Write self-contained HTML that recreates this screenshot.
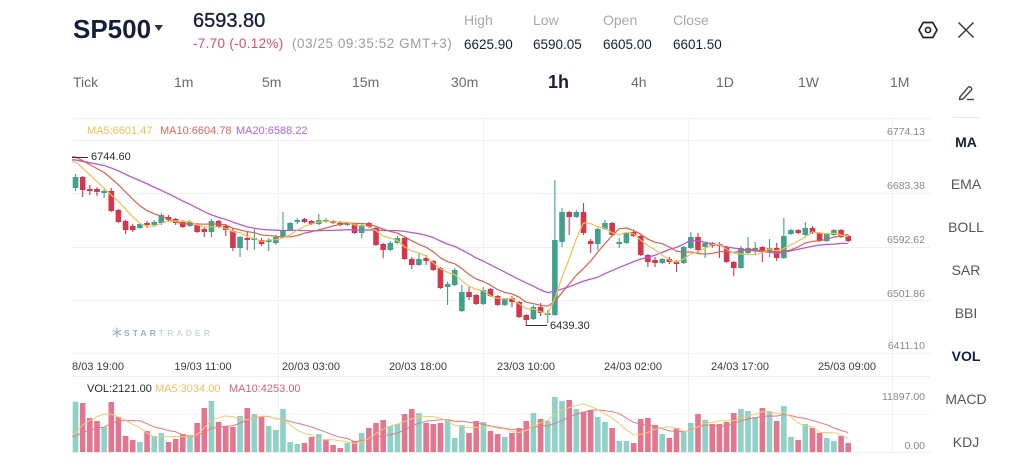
<!DOCTYPE html>
<html><head><meta charset="utf-8">
<style>
*{margin:0;padding:0;box-sizing:border-box}
body{width:1024px;height:471px;background:#fff;overflow:hidden;font-family:"Liberation Sans",Arial,sans-serif}
#root{position:relative;width:1024px;height:471px;overflow:hidden;background:#fff}
.t{position:absolute;white-space:nowrap;line-height:1}
.tab{position:absolute;top:74.5px;font-size:14px;color:#6a6a6a;line-height:1;white-space:nowrap}
.side{position:absolute;left:926px;width:80px;text-align:center;font-size:14px;color:#555;line-height:1}
.yl{position:absolute;right:99px;font-size:10.5px;color:#888;line-height:1;text-align:right}
.xl{position:absolute;top:362px;width:90px;text-align:center;font-size:11px;color:#3a3a3a;line-height:1}
</style></head><body><div id="root">

<div id="chart" style="position:absolute;left:0;top:0;width:1024px;height:471px"></div>

<!-- header -->
<div class="t" style="left:73px;top:15.5px;font-size:26px;font-weight:bold;color:#151f3d">SP500</div>
<svg style="position:absolute;left:154px;top:24px" width="10" height="8"><polygon points="0.5,1 9,1 4.75,7" fill="#333"/></svg>
<div class="t" style="left:193px;top:10.5px;font-size:20px;color:#151f3d;-webkit-text-stroke:0.35px #151f3d">6593.80</div>
<div class="t" style="left:193px;top:37px;font-size:13.5px;color:#d64f66;letter-spacing:0.3px">-7.70 (-0.12%)</div>
<div class="t" style="left:292px;top:37px;font-size:13.5px;color:#9c9c9c;letter-spacing:0.55px">(03/25 09:35:52 GMT+3)</div>

<div class="t" style="left:464px;top:13px;font-size:14px;color:#a8a8a8">High</div>
<div class="t" style="left:533px;top:13px;font-size:14px;color:#a8a8a8">Low</div>
<div class="t" style="left:603px;top:13px;font-size:14px;color:#a8a8a8">Open</div>
<div class="t" style="left:673px;top:13px;font-size:14px;color:#a8a8a8">Close</div>
<div class="t" style="left:464px;top:37.5px;font-size:13.5px;color:#151f3d">6625.90</div>
<div class="t" style="left:533px;top:37.5px;font-size:13.5px;color:#151f3d">6590.05</div>
<div class="t" style="left:603px;top:37.5px;font-size:13.5px;color:#151f3d">6605.00</div>
<div class="t" style="left:673px;top:37.5px;font-size:13.5px;color:#151f3d">6601.50</div>

<svg style="position:absolute;left:918px;top:20px" width="20" height="20"><polygon points="5.2,2.5 14.8,2.5 19,10 14.8,17.5 5.2,17.5 1,10" fill="none" stroke="#222" stroke-width="1.7" stroke-linejoin="round"/><circle cx="10" cy="10" r="2.6" fill="none" stroke="#222" stroke-width="1.6"/></svg>
<svg style="position:absolute;left:957px;top:21px" width="18" height="18"><path d="M1.5 1.5 L16.5 16.5 M16.5 1.5 L1.5 16.5" stroke="#333" stroke-width="1.4"/></svg>

<!-- tabs -->
<div class="tab" style="left:73px">Tick</div>
<div class="tab" style="left:174px">1m</div>
<div class="tab" style="left:262px">5m</div>
<div class="tab" style="left:352px">15m</div>
<div class="tab" style="left:451px">30m</div>
<div class="tab" style="left:548px;top:72.5px;font-size:18px;font-weight:bold;color:#151f3d">1h</div>
<div class="tab" style="left:631px">4h</div>
<div class="tab" style="left:716px">1D</div>
<div class="tab" style="left:798px">1W</div>
<div class="tab" style="left:890px">1M</div>
<svg style="position:absolute;left:957px;top:84px" width="20" height="18"><path d="M3 13 L11 3.5 Q12.5 2 14 3.5 Q15.5 5 14 6.5 L6 15 L2.5 15.5 Z" fill="none" stroke="#444" stroke-width="1.4" stroke-linejoin="round"/><path d="M10 15.5 L17 15.5" stroke="#444" stroke-width="1.4"/></svg>
<div style="position:absolute;left:953px;top:117px;width:26px;height:1px;background:#e6e6e6"></div>

<!-- sidebar -->
<div class="side" style="top:134.5px;font-weight:bold;color:#151f3d">MA</div>
<div class="side" style="top:177px">EMA</div>
<div class="side" style="top:219.5px">BOLL</div>
<div class="side" style="top:262.5px">SAR</div>
<div class="side" style="top:305.5px">BBI</div>
<div class="side" style="top:348.5px;font-weight:bold;color:#151f3d">VOL</div>
<div class="side" style="top:391.5px">MACD</div>
<div class="side" style="top:434.5px">KDJ</div>

<!-- MA legend -->
<div class="t" style="left:87px;top:126px;font-size:11px;color:#efbf4f">MA5:6601.47</div>
<div class="t" style="left:160px;top:126px;font-size:11px;color:#d9675a">MA10:6604.78</div>
<div class="t" style="left:236px;top:126px;font-size:11px;color:#b862d6">MA20:6588.22</div>

<!-- y labels -->
<div class="yl" style="top:127px">6774.13</div>
<div class="yl" style="top:181px">6683.38</div>
<div class="yl" style="top:235px">6592.62</div>
<div class="yl" style="top:289px">6501.86</div>
<div class="yl" style="top:341px">6411.10</div>
<div class="yl" style="top:392px">11897.00</div>
<div class="yl" style="top:441px">0.00</div>

<!-- markers -->
<div class="t" style="left:91px;top:151.5px;font-size:11px;color:#2a2a2a">6744.60</div>
<div class="t" style="left:550px;top:321px;font-size:11px;color:#2a2a2a">6439.30</div>

<!-- watermark -->
<svg style="position:absolute;left:112px;top:327px" width="10" height="11"><g stroke="#a9b3c0" stroke-width="1.3"><path d="M5 0.5 V10.5 M0.7 3 L9.3 8 M0.7 8 L9.3 3"/></g></svg>
<div class="t" style="left:124px;top:329px;font-size:8.5px;font-weight:bold;letter-spacing:3.1px;color:#9fabb9">STAR<span style="color:#cfd5dd">TRADER</span></div>

<!-- x labels -->
<div style="position:absolute;left:72px;top:0;width:860px;height:471px;overflow:hidden">
<div class="xl" style="left:-22px">18/03 19:00</div>
<div class="xl" style="left:86px">19/03 11:00</div>
<div class="xl" style="left:194px">20/03 03:00</div>
<div class="xl" style="left:301px">20/03 18:00</div>
<div class="xl" style="left:409px">23/03 10:00</div>
<div class="xl" style="left:516px">24/03 02:00</div>
<div class="xl" style="left:623px">24/03 17:00</div>
<div class="xl" style="left:730px">25/03 09:00</div>
</div>

<!-- vol legend -->
<div class="t" style="left:87px;top:384px;font-size:11px;color:#2a2a2a">VOL:2121.00</div>
<div class="t" style="left:155px;top:384px;font-size:11px;color:#f0c060">MA5:3034.00</div>
<div class="t" style="left:229px;top:384px;font-size:11px;color:#d9607a">MA10:4253.00</div>

<script>
(function(){
var C=[
[1,177,188,174,191],[0,177,190,176,197],[0,189,191,185,195],[0,189,192,187,196],[1,191,193,189,198],
[0,191,211,188,212],[0,210,222,209,223],[0,221,230,220,234],[0,226,230,224,232],[1,224,228,223,229],
[0,223,225,221,228],[1,222,225,220,227],[1,215,223,213,225],[0,217,220,215,222],[0,219,223,218,225],
[0,222,227,220,228],[1,222,226,220,227],[0,225,232,223,233],[0,229,232,227,237],[1,221,232,219,237],
[0,221,227,220,228],[0,226,230,224,236],[0,231,248,228,251],[1,237,248,236,257],[0,238,240,232,250],
[1,238,240,229,250],[0,240,244,238,246],[1,240,242,238,251],[1,237,243,235,245],[1,230,237,212,238],
[1,223,230,222,231],[1,220,222,218,224],[0,219,222,218,223],[0,221,224,220,225],[1,220,224,214,225],
[1,220,222,218,223],[0,221,223,220,224],[0,222,225,221,226],[1,223,225,222,226],[0,224,233,223,234],
[1,225,233,223,238],[0,223,227,222,228],[0,228,245,226,246],[0,244,250,243,258],[1,243,250,241,251],
[1,238,243,236,244],[0,238,259,237,260],[0,259,265,257,269],[1,259,265,253,266],[0,258,261,255,265],
[0,261,270,260,271],[0,268,288,267,289],[1,284,287,282,305],[1,270,285,268,286],[1,292,311,285,312],
[0,292,297,287,300],[0,295,304,294,305],[1,290,304,287,305],[0,289,296,288,297],[0,296,305,295,306],
[1,299,305,298,306],[0,298,302,296,307],[0,302,317,301,318],[0,315,320,314,326],[1,307,319,305,320],
[0,307,313,303,316],[1,313,315,310,323],[1,240,315,180,316],[1,212,242,208,247],[0,212,217,211,235],
[1,212,217,210,218],[0,212,233,203,235],[0,241,244,239,253],[1,229,244,228,250],[1,223,229,220,230],
[0,223,235,222,236],[1,242,244,238,248],[1,233,243,232,244],[0,232,236,231,237],[0,236,255,235,256],
[0,255,262,254,267],[0,260,263,257,267],[1,259,263,258,264],[0,259,262,257,264],[0,262,264,260,272],
[1,247,263,246,264],[1,237,248,232,249],[0,237,250,233,253],[1,243,247,242,258],[0,243,246,242,248],
[0,244,246,242,258],[0,247,262,246,263],[0,262,268,261,276],[1,248,268,246,269],[1,248,253,237,254],
[1,248,250,242,255],[0,247,252,246,262],[1,248,251,239,257],[0,248,258,243,261],[1,236,258,218,259],
[1,230,234,229,235],[0,230,233,229,234],[1,228,235,222,236],[0,228,233,226,234],[0,233,241,232,242],
[1,234,241,233,242],[1,230,235,229,236],[0,230,237,229,238],[0,236,241,235,242]];
var V=[[1,401.7],[0,403],[0,418],[0,421],[1,427],[0,402],[0,417],[0,436],[0,440],[1,442],
[0,431],[1,436],[1,433],[0,442],[0,439],[0,434],[1,435],[0,423],[0,408],[1,401],
[0,422],[0,426],[0,427],[1,416],[0,408],[1,414],[0,417],[1,426],[1,430],[1,409],
[1,442],[1,444],[0,443],[0,437],[1,434],[0,440],[0,445],[0,448],[1,443],[0,441],
[1,433],[0,428],[0,423],[0,420],[1,426],[1,424],[0,414],[0,409],[1,413],[0,423],
[0,424],[0,423],[1,420],[1,438],[1,425],[0,433],[0,421],[1,422],[0,431],[0,434],
[1,437],[0,433],[0,428],[0,421],[1,413],[0,419],[1,421],[1,397],[1,401],[0,400],
[1,409],[0,412],[0,410],[1,417],[1,422],[0,428],[1,441],[1,441],[0,443],[0,419],
[0,418],[0,425],[1,434],[0,438],[0,428],[1,431],[1,423],[0,414],[1,420],[0,424],
[0,424],[0,422],[0,413],[1,409],[1,411],[1,417],[0,408],[1,412],[0,421],[1,406],
[1,437],[0,440],[1,424],[0,428],[0,433],[1,438],[1,441],[0,436],[0,443]];
var x0=75.5,dx=7.155,GB=452;
var s='<svg width="1024" height="471" style="position:absolute;left:0;top:0">';
var hy=[118,140,193,247,300,353,376,452];
for(var i=0;i<hy.length;i++){s+='<line x1="72" x2="930" y1="'+(hy[i]+0.5)+'" y2="'+(hy[i]+0.5)+'" stroke="#efefef" stroke-width="1"/>';}
s+='<line x1="72" x2="930" y1="414.5" y2="414.5" stroke="#f5f5f5" stroke-width="1"/>';
var vx=[278,483,688,892];
for(i=0;i<vx.length;i++){s+='<line x1="'+(vx[i]+0.5)+'" x2="'+(vx[i]+0.5)+'" y1="118" y2="452" stroke="#f1f1f1" stroke-width="1"/>';}
var G='#40a18e',R='#d6354c',VG='#8fd0c7',VR='#e5758f';
for(i=0;i<V.length;i++){var x=x0+dx*i;var t=V[i][1];s+='<rect x="'+(x-2.8).toFixed(2)+'" y="'+t+'" width="5.6" height="'+(GB-t).toFixed(2)+'" fill="'+(V[i][0]?VG:VR)+'"/>';}
for(i=0;i<C.length;i++){var c=C[i];x=x0+dx*i;var col=c[0]?G:R;
s+='<line x1="'+x.toFixed(2)+'" x2="'+x.toFixed(2)+'" y1="'+c[3]+'" y2="'+c[4]+'" stroke="'+col+'" stroke-width="1.1"/>';
var h=Math.max(c[2]-c[1],1.4);
s+='<rect x="'+(x-2.8).toFixed(2)+'" y="'+c[1]+'" width="5.6" height="'+h+'" fill="'+col+'"/>';}
var cl=C.map(function(c){return c[0]?c[1]:c[2];});
var pre=[163,163,163,163,163,163,163,163,163,163,152,152,152,152,152,158,158,158,158];
var all=pre.concat(cl);
function ma(arr,n,off,len){var r=[];for(var i=0;i<len;i++){var sm=0;for(var k=0;k<n;k++)sm+=arr[off+i-k];r.push(sm/n);}return r;}
function pl(vals,col,w){var p='72,'+vals[0].toFixed(2);for(var i=0;i<vals.length;i++)p+=' '+(x0+dx*i).toFixed(2)+','+vals[i].toFixed(2);
return '<polyline points="'+p+'" fill="none" stroke="'+col+'" stroke-width="'+w+'" stroke-linejoin="round"/>';}
s+=pl(ma(all,20,19,cl.length),'#b35ad8',1.3);
s+=pl(ma(all,10,19,cl.length),'#d9604f',1.2);
s+=pl(ma(all,5,19,cl.length),'#f0c052',1.2);
var vt=V.map(function(v){return v[1];});
var vp=[440,440,440,440,440,440,440,440,440];
var va=vp.concat(vt);
s+=pl(ma(va,10,9,vt.length),'#e27a86',1);
s+=pl(ma(va,5,9,vt.length),'#f5c870',1);
s+='<line x1="72" x2="88" y1="157.5" y2="157.5" stroke="#333" stroke-width="1"/>';
s+='<line x1="526" x2="547" y1="325.5" y2="325.5" stroke="#333" stroke-width="1"/>';
s+='</svg>';
document.getElementById('chart').innerHTML=s;
})();
</script>
</div></body></html>
